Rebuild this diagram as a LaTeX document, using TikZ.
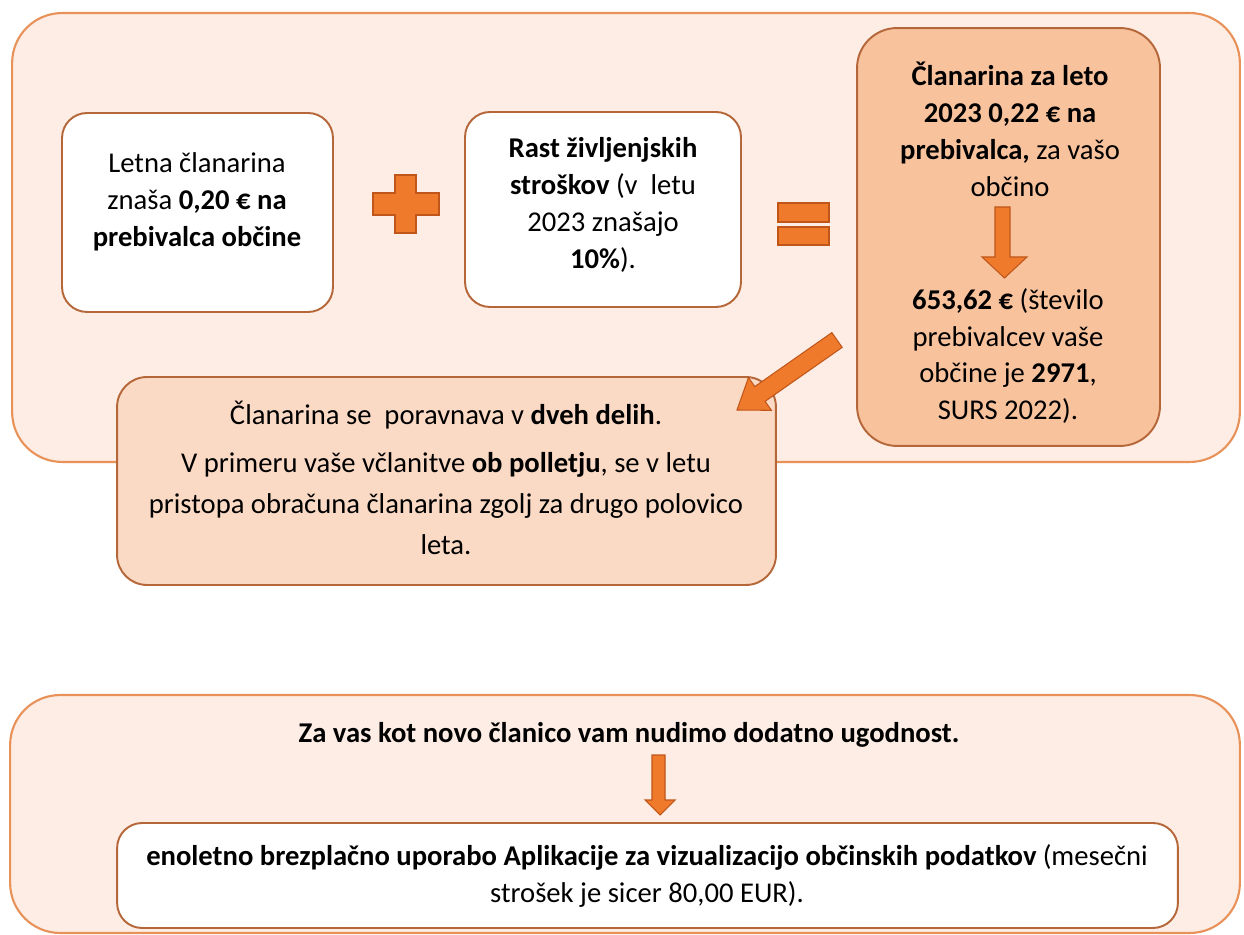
\documentclass[tikz,border=0pt]{standalone}
\usepackage{fontspec}
\setmainfont{Carlito}
\usetikzlibrary{calc}
\definecolor{panelfill}{HTML}{FDEDE4}
\definecolor{panelline}{HTML}{E8925A}
\definecolor{boxline}{HTML}{B5673A}
\definecolor{orangefill}{HTML}{F8C29D}
\definecolor{peachfill}{HTML}{FBDAC5}
\definecolor{arrowfill}{HTML}{EF7A2C}
\definecolor{arrowline}{HTML}{C0561A}
\begin{document}
\begin{tikzpicture}[x=0.02cm,y=-0.02cm,
  panel/.style={draw=panelline, fill=panelfill, line width=1.2pt, rounded corners=1cm, inner sep=0pt},
  whitebox/.style={draw=boxline, fill=white, line width=1.1pt, rounded corners=0.5cm, inner sep=0pt},
  orangebox/.style={draw=boxline, fill=orangefill, line width=1.1pt, rounded corners=0.8cm, inner sep=0pt},
  peachbox/.style={draw=boxline, fill=peachfill, line width=1.1pt, rounded corners=0.6cm, inner sep=0pt},
  txt/.style={align=center, inner sep=0pt, font=\fontsize{16.3}{21}\selectfont},
  sym/.style={fill=arrowfill, draw=arrowline, line width=0.6pt, line join=miter}
]
\useasboundingbox (0,0) rectangle (1244,935);

% panels
\node[panel, minimum width=24.56cm, minimum height=8.98cm] (top) at (626,237.5) {};
\node[panel, minimum width=24.6cm, minimum height=4.76cm] (bottom) at (625,814) {};

% top boxes
\node[whitebox, minimum width=5.42cm, minimum height=3.98cm] (b1) at (197.5,212.5) {};
\node[txt] (t1) at (197,202) {Letna članarina\\ znaša \textbf{0,20 € na}\\ \textbf{prebivalca občine}};

\node[whitebox, minimum width=5.52cm, minimum height=3.9cm] (b2) at (603,209.5) {};
\node[txt] (t2) at (603,205) {\textbf{Rast življenjskih}\\ \textbf{stroškov} (v\ \ letu\\ 2023 znašajo\\ \textbf{10\%}).};

\node[orangebox, minimum width=6.06cm, minimum height=8.36cm] (b3) at (1008.5,237) {};
\node[txt] (t3a) at (1010,129) {\textbf{Članarina za leto}\\ \textbf{2023 0,22 € na}\\ \textbf{prebivalca,} za vašo\\ občino};
\node[txt] (t3b) at (1008,356) {\textbf{653,62 €} (število\\ prebivalcev vaše\\ občine je \textbf{2971},\\ SURS 2022).};

% plus
\draw[sym] (395,175) -- (416,175) -- (416,193) -- (439,193) -- (439,215) -- (416,215) -- (416,233) -- (395,233) -- (395,215) -- (373,215) -- (373,193) -- (395,193) -- cycle;
% equals
\draw[sym] (778,203) rectangle (829,222);
\draw[sym] (778,227) rectangle (829,245);

% down arrow in b3
\draw[sym] (995,207) -- (1010,207) -- (1010,257) -- (1027,257) -- (1004.5,278) -- (982,257) -- (995,257) -- cycle;

% lower peach box
\node[peachbox, minimum width=13.18cm, minimum height=4.16cm] (b4) at (446.5,481) {};
\node[txt] (t4a) at (446,415) {Članarina se\ \ poravnava v \textbf{dveh delih}.};
\node[txt, font=\fontsize{16.3}{23.3}\selectfont] (t4b) at (446,504) {V primeru vaše včlanitve \textbf{ob polletju}, se v letu\\ pristopa obračuna članarina zgolj za drugo polovico\\ leta.};

% diagonal arrow
\coordinate (da) at (837,340);
\coordinate (db) at (737,410);
\coordinate (dh) at ($(db)!0.56cm!(da)$);
\draw[sym] ($(da)!0.18cm!90:(db)$) -- ($(dh)!0.18cm!-90:(da)$) -- ($(dh)!0.4cm!-90:(da)$) -- (db) -- ($(dh)!0.4cm!90:(da)$) -- ($(dh)!0.18cm!90:(da)$) -- ($(da)!0.18cm!-90:(db)$) -- cycle;

% bottom section
\node[txt, font=\bfseries\fontsize{16.3}{21}\selectfont] (t5) at (629,735) {Za vas kot novo članico vam nudimo dodatno ugodnost.};
\draw[sym] (652,755) -- (665,755) -- (665,800) -- (675,800) -- (660,815) -- (645,800) -- (652,800) -- cycle;
\node[whitebox, minimum width=21.22cm, minimum height=2.1cm] (b5) at (647.5,875.5) {};
\node[txt] (t6) at (647,876) {\textbf{enoletno brezplačno uporabo Aplikacije za vizualizacijo občinskih podatkov} (mesečni\\ strošek je sicer 80,00 EUR).};
\end{tikzpicture}
\end{document}
